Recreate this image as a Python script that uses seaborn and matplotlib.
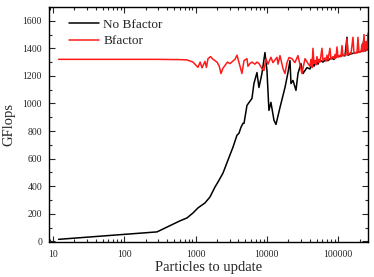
import numpy as np
import pandas as pd
import matplotlib
matplotlib.use("Agg")
import matplotlib.pyplot as plt
import seaborn as sns
from matplotlib.ticker import LogLocator, MultipleLocator, NullFormatter

sns.set_style("ticks")
plt.rcParams['font.family'] = ['Liberation Serif', 'DejaVu Serif']

# No Bfactor series
nob_x = [12, 288, 604, 757, 920, 1081, 1356, 1592, 1871, 2061, 2422, 2846, 3347,
         3808, 4062, 4333, 4622, 4780, 5260, 6180, 6590, 7260, 7745, 8530, 9400,
         10030, 10690, 11400, 12580, 13420, 15280, 17950, 19770, 21100, 21780,
         23230, 25600, 27300, 30060, 32070, 36480,
         40200, 42900, 45800, 48800, 52100, 55600, 61200, 67400, 71900, 79300,
         87300, 96200, 106000, 116800, 124600, 132900, 137200, 151200, 166600,
         183500, 202200, 215700, 230100, 237700, 253500, 262144]
nob_y = [15, 69, 149, 170, 206, 243, 279, 322, 394, 430, 495, 589, 683,
         770, 784, 827, 856, 856, 986, 1037, 1145, 1224, 1116, 1217, 1369,
         1239, 950, 1008, 878, 848, 971, 1116, 1224, 1311, 1144,
         1167, 1095, 1217, 1289, 1217, 1260,
         1250, 1290, 1270, 1310, 1285, 1315, 1300, 1320, 1310, 1330,
         1320, 1345, 1340, 1350, 1345, 1480, 1350, 1360, 1365,
         1370, 1375, 1380, 1470, 1380, 1390, 1395]

# Bfactor series
bf_x = [12, 288, 604, 757, 920, 1081, 1160, 1230, 1356, 1420, 1495, 1620, 1760,
        2000, 2150, 2270, 2420, 2580, 2800, 3040, 3300, 3570, 3810, 4200, 4470,
        4780, 5260, 5430, 5800, 6180, 6800, 7250, 7745, 8530,
        9100, 9700, 10360, 11400, 12170, 13870, 14330, 15280, 16830, 17950,
        19140, 20430, 22470, 24720, 27300, 31030, 34270, 37780,
        40200, 41500, 42900, 44300, 45800, 47300, 48800, 50400, 52100, 53800,
        55600, 59300, 61200, 65300, 67400, 69700, 71900, 76700, 79300, 84600,
        87300, 90200, 93100, 96200, 99400, 106000, 109500, 113100, 116800,
        124600, 128700, 132900, 137200, 146400, 151200, 161300, 166600, 177700,
        183500, 189600, 195800, 208900, 215700, 222800, 230100, 237700, 245400,
        253500, 262144]
bf_y = [1320, 1320, 1318, 1316, 1300, 1262, 1300, 1258, 1305, 1262, 1325, 1340, 1320,
        1300, 1270, 1217, 1255, 1275, 1300, 1289, 1305, 1320, 1350, 1270, 1217,
        1311, 1325, 1270, 1290, 1300, 1285, 1300, 1290, 1253,
        1239, 1325, 1285, 1335, 1296, 1335, 1285, 1347, 1253, 1217,
        1296, 1333, 1325, 1296, 1347, 1217, 1325, 1289,
        1270, 1320, 1260, 1400, 1290, 1310, 1280, 1340, 1295, 1320,
        1300, 1400, 1310, 1330, 1305, 1350, 1315, 1400, 1320, 1340,
        1325, 1355, 1330, 1410, 1335, 1350, 1340, 1420, 1345,
        1355, 1350, 1470, 1355, 1365, 1360, 1480, 1362, 1370,
        1365, 1480, 1370, 1375, 1430, 1375, 1500, 1380, 1450,
        1385, 1510]

xtick_vals = [10, 100, 1000, 10000, 100000]
xtick_labels = ["10", "100", "1000", "10000", "100000"]
ytick_vals = [0, 200, 400, 600, 800, 1000, 1200, 1400, 1600]

fig = plt.figure(figsize=(3.74, 2.77), dpi=100)
ax = fig.add_axes([0.131, 0.126, 0.853, 0.849])

sns.lineplot(x=nob_x, y=nob_y, color="black", linewidth=1.1, sort=False,
             estimator=None, label="No Bfactor", ax=ax)
sns.lineplot(x=bf_x, y=bf_y, color="#ff1a1a", linewidth=1.1, sort=False,
             estimator=None, label="Bfactor", ax=ax)

ax.set_xscale("log")
ax.set_xlim(8.8, 262144)
ax.set_ylim(-5, 1700)
ax.set_xticks(xtick_vals)
ax.set_xticklabels(xtick_labels)
ax.xaxis.set_minor_locator(LogLocator(base=10, subs=np.arange(2, 10)))
ax.xaxis.set_minor_formatter(NullFormatter())
ax.set_yticks(ytick_vals)
ax.yaxis.set_minor_locator(MultipleLocator(100))

ax.tick_params(axis="both", which="both", direction="in", top=True, right=True,
               labelsize=7, width=0.8)
ax.tick_params(axis="x", which="major", pad=6)
ax.tick_params(axis="y", which="major", pad=5)
ax.tick_params(axis="both", which="major", length=4)
ax.tick_params(axis="both", which="minor", length=2)
for s in ax.spines.values():
    s.set_visible(True)
    s.set_linewidth(1.0)
    s.set_color("black")

ax.set_xlabel("Particles to update", fontsize=10.5, labelpad=1)
ax.set_ylabel("GFlops", fontsize=10.5, labelpad=5)

leg = ax.legend(loc="upper left", frameon=False, fontsize=9.5, handlelength=2.3,
                handletextpad=0.3, labelspacing=0.3, bbox_to_anchor=(0.025, 1.0))

fig.savefig("out.png", dpi=100)
